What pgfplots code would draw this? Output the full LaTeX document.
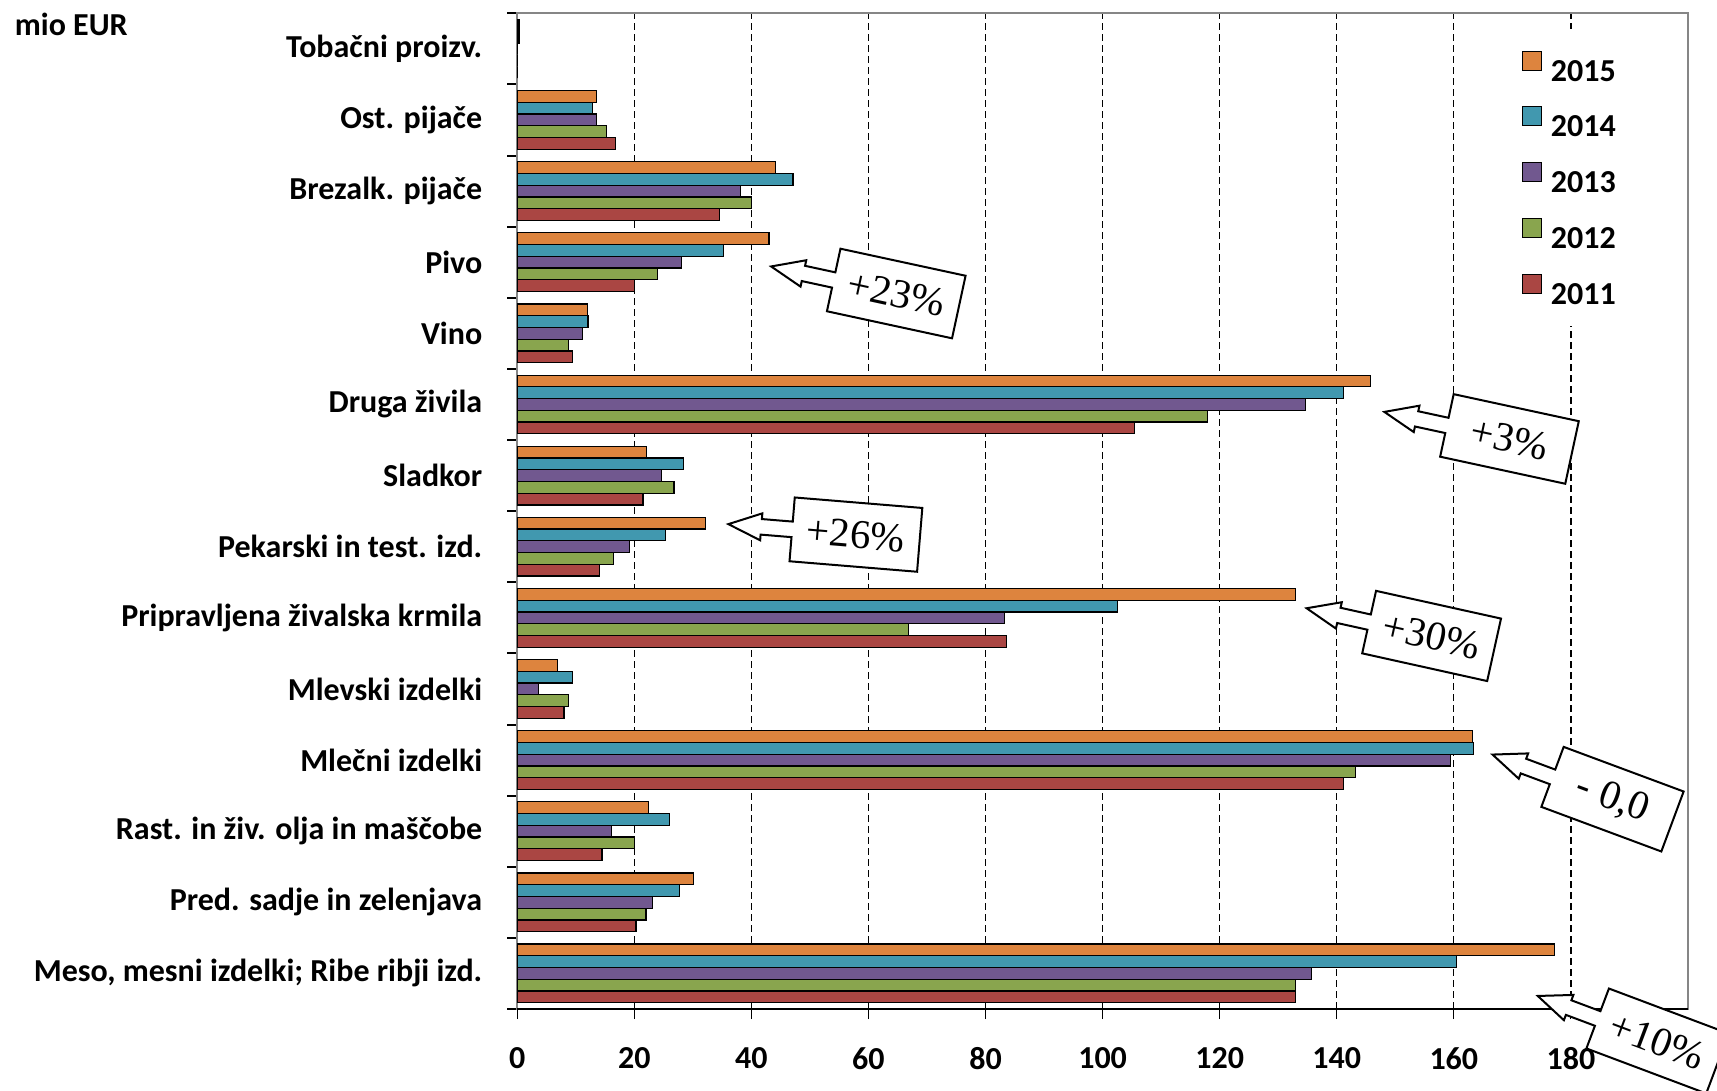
\documentclass[border=0pt]{standalone}
\usepackage{fontspec}
\setmainfont{Carlito}
\newfontfamily\calloutfont{Liberation Serif}
\usepackage{pgfplots}
\usepackage{pgfplotstable}
\pgfplotsset{compat=1.18}

\definecolor{c2015}{RGB}{221,132,62}
\definecolor{c2014}{RGB}{65,152,175}
\definecolor{c2013}{RGB}{113,88,143}
\definecolor{c2012}{RGB}{137,165,78}
\definecolor{c2011}{RGB}{170,70,67}
\definecolor{frame}{RGB}{134,134,134}

% y: 0 = bottom category (Meso ...), 13 = top (Tobacni)
\pgfplotstableread{
y  v2015 v2014 v2013 v2012 v2011
0  177.2 160.5 135.7 132.9 132.9
1  30.1  27.7  23.1  22.0  20.3
2  22.4  26.0  16.1  20.1  14.5
3  163.2 163.4 159.4 143.2 141.1
4  6.9   9.5   3.6   8.8   8.0
5  132.9 102.5 83.3  66.8  83.6
6  32.2  25.4  19.2  16.4  14.1
7  22.1  28.4  24.6  26.8  21.5
8  145.7 141.2 134.7 117.9 105.4
9  12.0  12.1  11.1  8.7   9.5
10 43.0  35.2  28.1  23.9  20.0
11 44.1  47.1  38.2  40.0  34.5
12 13.6  12.8  13.6  15.2  16.8
13 0.3   0.3   0     0     0
}\data

% callout: centre, rotation, text
\newcommand{\callout}[3]{%
  \begin{scope}[shift={#1}, rotate=#2]
    \draw[fill=white, line width=1pt, line join=miter]
      (-32pt,16pt) -- (32pt,16pt) -- (32pt,-16pt) -- (-32pt,-16pt)
      -- (-32pt,-3.9pt) -- (-47.5pt,-3.9pt) -- (-47.5pt,-6.75pt)
      -- (-64pt,0pt) -- (-47.5pt,6.75pt) -- (-47.5pt,3.9pt)
      -- (-32pt,3.9pt) -- cycle;
    \node[rotate=#2, inner sep=0pt, font=\calloutfont\fontsize{20.5}{20.5}\selectfont] at (0,0) {#3};
  \end{scope}}

\begin{document}
\begin{tikzpicture}
\begin{axis}[
    at={(258.6pt,41pt)}, anchor=south west,
    scale only axis,
    width=585.4pt, height=497.85pt,
    xbar, bar width=5.87pt,
    xmin=0, xmax=200,
    ymin=-0.5, ymax=13.5,
    xtick={0,20,...,180},
    ytick={0,...,13},
    yticklabels={{Meso, mesni izdelki; Ribe ribji izd.},
                 Pred. sadje in zelenjava,
                 Rast. in živ. olja in maščobe,
                 Mlečni izdelki,
                 Mlevski izdelki,
                 Pripravljena živalska krmila,
                 Pekarski in test. izd.,
                 Sladkor,
                 Druga živila,
                 Vino,
                 Pivo,
                 Brezalk. pijače,
                 Ost. pijače,
                 Tobačni proizv.},
    minor ytick={-0.5,0.5,...,13.5},
    xtick pos=bottom, ytick pos=left,
    tick align=outside,
    major tick length=5pt,
    minor tick length=5pt,
    major y tick style={draw=none},
    minor y tick style={draw=black, line width=1pt},
    major x tick style={draw=black, line width=0.5pt},
    /pgf/number format/assume math mode=true,
    ticklabel style={font=\bfseries\fontsize{16}{19}\selectfont, inner sep=0pt},
    yticklabel shift=12.3pt,
    xticklabel shift=13.9pt,
    xmajorgrids,
    grid style={black, line width=0.6pt, dash pattern=on 3.5pt off 2pt},
    axis line style={draw=frame, line width=1pt},
    clip=false,
    legend style={at={(axis cs:167.8,13.29)}, anchor=north west,
        draw=none, fill=white, inner sep=11pt,
        font=\bfseries\fontsize{16}{19}\selectfont,
        row sep=12.65pt, column sep=4.5pt,
        nodes={inner sep=0pt, text height=11pt, text depth=0pt}},
    legend cell align=left,
    legend image code/.code={\draw[#1, draw=black, line width=0.5pt] (0pt,0pt) rectangle (9.5pt,9.5pt);},
    every axis plot/.append style={draw=black, line width=0.6pt},
]
\addplot[fill=c2015, bar shift=11.74pt] table[x=v2015, y=y] {\data};
\addplot[fill=c2014, bar shift=5.87pt]  table[x=v2014, y=y] {\data};
\addplot[fill=c2013, bar shift=0pt]     table[x=v2013, y=y] {\data};
\addplot[fill=c2012, bar shift=-5.87pt] table[x=v2012, y=y] {\data};
\addplot[fill=c2011, bar shift=-11.74pt] table[x=v2011, y=y] {\data};
\legend{2015,2014,2013,2012,2011}
\draw[black, line width=1.2pt] (rel axis cs:0,0) -- (rel axis cs:1,0);
\coordinate (c1) at (axis cs:64.75,9.56);
\coordinate (c2) at (axis cs:169.5,7.515);
\coordinate (c3) at (axis cs:57.86,6.17);
\coordinate (c4) at (axis cs:156.2,4.745);
\coordinate (c5) at (axis cs:187.1,2.45);
\coordinate (c6) at (axis cs:194.8,-0.95);
\end{axis}
\node[anchor=base west, inner sep=0pt, font=\bfseries\fontsize{16}{19}\selectfont] at (7.25pt,527.5pt) {mio EUR};
\callout{(c1)}{-12.2}{+23\%}
\callout{(c2)}{-12.2}{+3\%}
\callout{(c3)}{-4.7}{+26\%}
\callout{(c4)}{-12.5}{+30\%}
\callout{(c5)}{-20.4}{- 0,0}
\callout{(c6)}{-20.6}{+10\%}
\pgfresetboundingbox
\path[use as bounding box] (0,0) rectangle (858.5pt,545.5pt);
\end{tikzpicture}
\end{document}
